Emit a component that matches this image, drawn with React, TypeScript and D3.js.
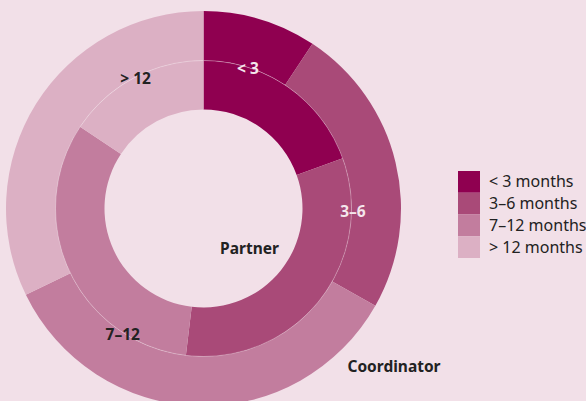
import React from "react";
import * as d3 from "d3";

const categories = ["< 3 months", "3–6 months", "7–12 months", "> 12 months"];
const shortLabels = ["< 3", "3–6", "7–12", "> 12"];
const coordinatorValues = [9.3, 23.9, 34.6, 32.2];
const partnerValues = [19.5, 32.4, 32.4, 15.7];
const colors = ["#8F0050", "#A94A78", "#C27D9E", "#DCB0C4"];
// label placement: angle in degrees clockwise from top, and radius
const labelAngles = [17.6, 91, 212.6, 332.5];
const labelRadii = [147, 149.5, 150, 147];
const labelDark = [false, false, true, true];

const W = 586;
const H = 401;

export default function App() {
  const cx = 203.5;
  const cy = 208.5;
  const rOuter = 197.5;
  const rMid = 148;
  const rInner = 99;

  const pie = d3.pie<number>().sort(null).value((d) => d);
  const outerArc = d3.arc<d3.PieArcDatum<number>>().innerRadius(rMid).outerRadius(rOuter);
  const innerArc = d3.arc<d3.PieArcDatum<number>>().innerRadius(rInner).outerRadius(rMid);
  const outerData = pie(coordinatorValues);
  const innerData = pie(partnerValues);

  const legendY = d3.scaleBand<number>().domain(d3.range(categories.length)).range([171, 258]);
  const font = "'Noto Sans', Roboto, sans-serif";

  return (
    <svg width={W} height={H} style={{ position: "absolute", left: 0, top: 0, background: "#F2E0E8" }} fontFamily={font}>
      <rect width={W} height={H} fill="#F2E0E8" />
      <g transform={`translate(${cx},${cy})`}>
        {outerData.map((d, i) => (
          <path key={"o" + i} d={outerArc(d) || ""} fill={colors[i]} />
        ))}
        {innerData.map((d, i) => (
          <path key={"i" + i} d={innerArc(d) || ""} fill={colors[i]} />
        ))}
        <circle r={rMid} fill="none" stroke="#ffffff" strokeOpacity={0.35} strokeWidth={0.8} />
        {shortLabels.map((t, i) => {
          const a = (labelAngles[i] * Math.PI) / 180;
          const r = labelRadii[i];
          return (
            <text
              key={"l" + i}
              x={r * Math.sin(a)}
              y={-r * Math.cos(a)}
              dy="0.36em"
              textAnchor="middle"
              fontSize={15.5}
              fontWeight={700}
              fill={labelDark[i] ? "#222222" : "#F4E6EC"}
            >
              {t}
            </text>
          );
        })}
        <text x={46} y={45.5} textAnchor="middle" fontSize={15.5} fontWeight={700} fill="#222222">
          Partner
        </text>
      </g>
      <text x={394} y={371.5} textAnchor="middle" fontSize={15.5} fontWeight={700} fill="#222222">
        Coordinator
      </text>
      {categories.map((c, i) => (
        <g key={"lg" + i}>
          <rect x={458} y={legendY(i)!} width={22} height={legendY.bandwidth()} fill={colors[i]} />
          <text x={489} y={legendY(i)! + legendY.bandwidth() / 2} dy="0.35em" fontSize={16} fill="#222222">
            {c}
          </text>
        </g>
      ))}
    </svg>
  );
}
